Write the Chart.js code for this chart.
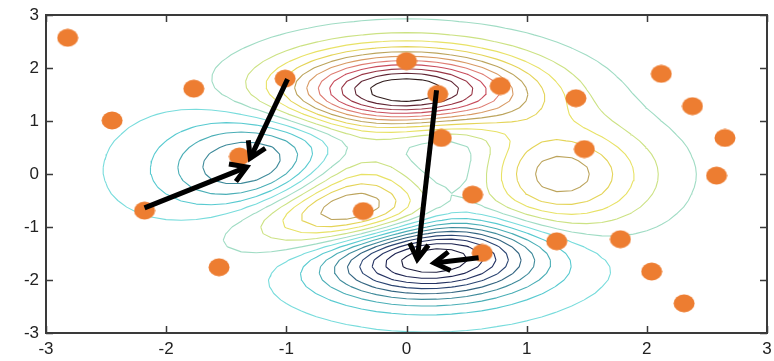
<!DOCTYPE html>
<html>
<head>
<meta charset="utf-8">
<script src="https://cdn.jsdelivr.net/npm/chart.js@4.4.1/dist/chart.umd.min.js"></script>
<style>
  html,body{margin:0;padding:0;background:#fff;overflow:hidden;}
  #wrap{width:774px;height:361px;position:relative;overflow:hidden;}
  #c{display:block;}
</style>
</head>
<body>
<div id="wrap"><canvas id="c" width="778" height="361"></canvas></div>
<script>
// ---- data ----
const xTicks = [-3, -2, -1, 0, 1, 2, 3];
const yTicks = [-3, -2, -1, 0, 1, 2, 3];

// orange sample points
const pointX = [-2.82, -1.77, -2.45, -1.39, -2.18, -1.56, -1.01, 0.00, 0.26, 0.78, 0.29, -0.36,
                0.55, 0.63, 1.41, 1.48, 2.12, 2.38, 2.65, 2.58, 1.25, 1.78, 2.04, 2.31];
const pointY = [2.57, 1.61, 1.01, 0.33, -0.69, -1.76, 1.80, 2.13, 1.51, 1.66, 0.68, -0.70,
                -0.39, -1.49, 1.43, 0.47, 1.89, 1.28, 0.68, -0.03, -1.27, -1.23, -1.84, -2.44];

// arrows: start x, start y, tip x, tip y
const arrowStartX = [-0.99, -2.18, 0.25, 0.60];
const arrowStartY = [ 1.79, -0.64, 1.58, -1.58];
const arrowTipX   = [-1.30, -1.33, 0.09, 0.23];
const arrowTipY   = [ 0.30,  0.13, -1.61, -1.68];

// contour levels of the surface (20 levels) and their colours
const contourLevels = [-5.8503, -5.1540, -4.4577, -3.7614, -3.0652, -2.3689, -1.6726, -0.9763, -0.2800, 0.4163,
                        1.1125, 1.8088, 2.5051, 3.2014, 3.8977, 4.5940, 5.2902, 5.9865, 6.6828, 7.3791];
const contourColors = ['#1c1c3c', '#1e2452', '#243262', '#2a4472', '#326480', '#3e8a9a', '#4aaeb6', '#58cad0',
                       '#78dcdc', '#a0dcc4', '#cce284', '#e8e266', '#e4d458', '#bca45c', '#d89a64', '#de7c72',
                       '#c84c5c', '#983444', '#602634', '#301c1c'];

// the plotted surface (MATLAB peaks) sampled on a 49x49 grid over [-3,3]
function surface(x, y) {
  return 3 * Math.pow(1 - x, 2) * Math.exp(-(x * x) - Math.pow(y + 1, 2))
       - 10 * (x / 5 - Math.pow(x, 3) - Math.pow(y, 5)) * Math.exp(-(x * x) - y * y)
       - (1 / 3) * Math.exp(-Math.pow(x + 1, 2) - y * y);
}
const gridN = 49;
const gx = [], gy = [];
for (let i = 0; i < gridN; i++) { gx.push(-3 + 6 * i / (gridN - 1)); gy.push(-3 + 6 * i / (gridN - 1)); }
const Z = gy.map(y => gx.map(x => surface(x, y)));

function contourSegments(lev) {
  const out = [];
  const lerp = (xa, ya, za, xb, yb, zb) => {
    const t = (lev - za) / (zb - za);
    return { x: xa + t * (xb - xa), y: ya + t * (yb - ya) };
  };
  for (let j = 0; j < gridN - 1; j++) {
    for (let i = 0; i < gridN - 1; i++) {
      const x0 = gx[i], x1 = gx[i + 1], y0 = gy[j], y1 = gy[j + 1];
      const bl = Z[j][i], br = Z[j][i + 1], tr = Z[j + 1][i + 1], tl = Z[j + 1][i];
      const e = [null, null, null, null]; // bottom, right, top, left
      if ((bl >= lev) !== (br >= lev)) e[0] = lerp(x0, y0, bl, x1, y0, br);
      if ((br >= lev) !== (tr >= lev)) e[1] = lerp(x1, y0, br, x1, y1, tr);
      if ((tl >= lev) !== (tr >= lev)) e[2] = lerp(x0, y1, tl, x1, y1, tr);
      if ((bl >= lev) !== (tl >= lev)) e[3] = lerp(x0, y0, bl, x0, y1, tl);
      const pts = e.filter(p => p);
      let pairs = [];
      if (pts.length === 2) pairs = [[pts[0], pts[1]]];
      else if (pts.length === 4) {
        const c = (bl + br + tr + tl) / 4;
        if ((bl >= lev) === (c >= lev)) pairs = [[e[0], e[1]], [e[2], e[3]]];
        else pairs = [[e[3], e[0]], [e[1], e[2]]];
      }
      for (const [a, b] of pairs) {
        out.push({ x: a.x, y: a.y }, { x: b.x, y: b.y }, { x: b.x, y: null });
      }
    }
  }
  return out;
}

// ---- chart ----
const font = { family: "'Liberation Sans', Arial, sans-serif", size: 17 };

const dot = document.createElement('canvas');
dot.width = 22; dot.height = 19;
(() => {
  const g = dot.getContext('2d');
  g.fillStyle = '#ED7D31';
  g.beginPath();
  g.ellipse(11, 9.5, 10.5, 9, 0, 0, Math.PI * 2);
  g.fill();
})();

const datasets = [{
  label: 'points',
  data: pointX.map((x, i) => ({ x, y: pointY[i] })),
  pointStyle: dot,
  pointRadius: 10,
  showLine: false,
  order: 0
}];
contourLevels.forEach((lev, k) => {
  datasets.push({
    label: 'level ' + lev,
    data: contourSegments(lev),
    showLine: true,
    borderColor: contourColors[k],
    borderWidth: 1.1,
    pointRadius: 0,
    spanGaps: false,
    order: 1
  });
});

const framePlugin = {
  id: 'frame',
  afterDatasetsDraw(chart) {
    const { ctx, scales: { x, y } } = chart;
    ctx.save();
    ctx.strokeStyle = '#000';
    ctx.lineWidth = 5;
    ctx.lineCap = 'butt';
    ctx.lineJoin = 'miter';
    for (let i = 0; i < arrowStartX.length; i++) {
      const sx = x.getPixelForValue(arrowStartX[i]), sy = y.getPixelForValue(arrowStartY[i]);
      const tx = x.getPixelForValue(arrowTipX[i]), ty = y.getPixelForValue(arrowTipY[i]);
      const ang = Math.atan2(ty - sy, tx - sx);
      ctx.beginPath();
      ctx.moveTo(sx, sy);
      ctx.lineTo(tx, ty);
      ctx.stroke();
      const L = 18, a = 0.55;
      ctx.beginPath();
      ctx.moveTo(tx - L * Math.cos(ang - a), ty - L * Math.sin(ang - a));
      ctx.lineTo(tx, ty);
      ctx.lineTo(tx - L * Math.cos(ang + a), ty - L * Math.sin(ang + a));
      ctx.stroke();
    }
    ctx.restore();
  },
  afterDraw(chart) {
    const { ctx, chartArea: ca, scales: { x, y } } = chart;
    ctx.save();
    ctx.strokeStyle = '#3a3a3a';
    ctx.lineWidth = 2;
    ctx.strokeRect(ca.left, ca.top, ca.right - ca.left, ca.bottom - ca.top);
    ctx.lineWidth = 1.5;
    const T = 7;
    ctx.beginPath();
    xTicks.forEach(v => {
      const px = Math.round(x.getPixelForValue(v)) + 0.5;
      ctx.moveTo(px, ca.bottom); ctx.lineTo(px, ca.bottom - T);
      ctx.moveTo(px, ca.top); ctx.lineTo(px, ca.top + T);
    });
    yTicks.forEach(v => {
      const py = Math.round(y.getPixelForValue(v)) + 0.5;
      ctx.moveTo(ca.left, py); ctx.lineTo(ca.left + T, py);
      ctx.moveTo(ca.right, py); ctx.lineTo(ca.right - T, py);
    });
    ctx.stroke();
    ctx.restore();
  }
};

new Chart(document.getElementById('c'), {
  type: 'scatter',
  data: { datasets },
  options: {
    responsive: false,
    animation: false,
    events: [],
    layout: { padding: { top: 15, right: 0, left: 0, bottom: 0 } },
    plugins: { legend: { display: false }, tooltip: { enabled: false } },
    scales: {
      x: {
        type: 'linear', min: -3, max: 3,
        afterBuildTicks: s => { s.ticks = xTicks.map(v => ({ value: v })); },
        afterFit: s => { s.height = 28; },
        grid: { display: false, drawTicks: false },
        border: { display: false },
        ticks: { color: '#222', font, padding: 6, maxRotation: 0, autoSkip: false }
      },
      y: {
        type: 'linear', min: -3, max: 3,
        afterBuildTicks: s => { s.ticks = yTicks.map(v => ({ value: v })); },
        afterFit: s => { s.width = 46; s.paddingTop = 0; s.paddingBottom = 0; },
        grid: { display: false, drawTicks: false },
        border: { display: false },
        ticks: { color: '#222', font, padding: 7, autoSkip: false }
      }
    }
  },
  plugins: [framePlugin]
});
</script>
</body>
</html>
